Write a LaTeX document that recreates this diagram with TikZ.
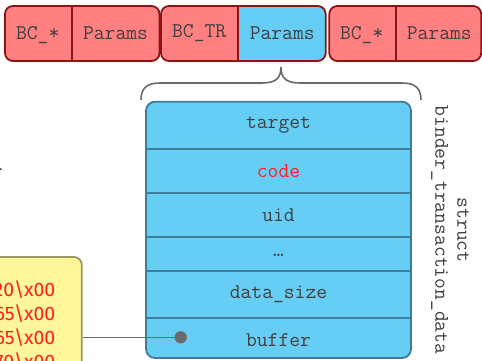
\documentclass[tikz,border=0pt]{standalone}
\usepackage{fontspec}
\newfontfamily\memfont{Fira Sans}
\definecolor{cmdfill}{HTML}{FF8080}
\definecolor{cmdline}{HTML}{8C1414}
\definecolor{fieldfill}{HTML}{66CDF4}
\definecolor{fieldline}{HTML}{3E7C99}
\definecolor{labelgray}{HTML}{404040}
\definecolor{memfill}{HTML}{FFF69C}
\definecolor{memline}{HTML}{9A9766}
\definecolor{wiregray}{HTML}{6B6B6B}
\definecolor{memred}{HTML}{FF1F1F}
\begin{document}
\begin{tikzpicture}[x=1pt,y=-1pt,
  lbl/.style={font=\ttfamily\fontsize{21}{22}\selectfont, text=labelgray, inner sep=0pt},
  recline/.style={draw=cmdline, line width=1.8pt},
  fieldborder/.style={draw=fieldline, line width=1.8pt},
  membox/.style={draw=memline, fill=memfill, line width=1.8pt, rounded corners=8pt, inner sep=0pt},
  memtxt/.style={font=\memfont\fontsize{19.5}{23.7}\selectfont, text=memred, inner sep=0pt, anchor=base east},
  wire/.style={draw=wiregray, line width=1.6pt},
  pin/.style={circle, fill=wiregray, inner sep=0pt, minimum size=12pt},
  bracestyle/.style={draw=wiregray, line width=1.6pt}
]
\useasboundingbox (0,0) rectangle (482,360);
\clip (0,0) rectangle (482,360);

% ---- command stream: three records ----
% record 1
\begin{scope}
  \clip[rounded corners=8pt] (5,6) rectangle (159.5,61);
  \fill[cmdfill] (5,6) rectangle (159.5,61);
\end{scope}
\draw[recline] (71.7,6) -- (71.7,61);
\draw[recline, rounded corners=8pt] (5,6) rectangle (159.5,61);
% record 2 (transaction)
\begin{scope}
  \clip[rounded corners=8pt] (161,6) rectangle (325.7,61);
  \fill[cmdfill] (161,6) rectangle (238,61);
  \fill[fieldfill] (238,6) rectangle (325.7,61);
\end{scope}
\draw[recline] (238,6) -- (238,61);
\draw[recline, rounded corners=8pt] (161,6) rectangle (325.7,61);
% record 3
\begin{scope}
  \clip[rounded corners=8pt] (329.3,6) rectangle (481.2,61);
  \fill[cmdfill] (329.3,6) rectangle (481.2,61);
\end{scope}
\draw[recline] (395.7,6) -- (395.7,61);
\draw[recline, rounded corners=8pt] (329.3,6) rectangle (481.2,61);

\node[lbl, anchor=base] (cmdA) at (37.7,39.3) {BC\_*};
\node[lbl, anchor=base] (parA) at (115.5,39.3) {Params};
\node[lbl, anchor=base] (cmdB) at (199.2,37.3) {BC\_TR};
\node[lbl, anchor=base] (parB) at (282.2,39.3) {Params};
\node[lbl, anchor=base] (cmdC) at (361.7,39.3) {BC\_*};
\node[lbl, anchor=base] (parC) at (439.3,39.3) {Params};

% ---- brace from the transaction params down to the struct ----
\draw[bracestyle] (141,100) .. controls (141,88) and (147,83) .. (160,83)
  -- (262,83) .. controls (276,83) and (281,78) .. (281,67)
  .. controls (281,78) and (286,83) .. (300,83)
  -- (402,83) .. controls (415,83) and (421,88) .. (421,100);

% ---- struct binder_transaction_data ----
\begin{scope}
  \clip[rounded corners=9pt] (146,101.7) rectangle (411,358);
  \fill[fieldfill] (146,101.7) rectangle (411,358);
\end{scope}
\foreach \yy in {149.3,192.7,236.7,271,317.7}
  \draw[fieldborder] (146,\yy) -- (411,\yy);
\draw[fieldborder, rounded corners=9pt] (146,101.7) rectangle (411,358);

\node[lbl, anchor=base] (target) at (278.5,128.3) {target};
\node[lbl, anchor=base, text=memred] (code) at (278.5,177.3) {code};
\node[lbl, anchor=base] (uid) at (278.5,221.7) {uid};
\node[lbl, anchor=base] (more) at (278.5,256.7) {…};
\node[lbl, anchor=base] (dsize) at (278.5,298.3) {data\_size};
\node[lbl, anchor=base] (buffer) at (278.5,346) {buffer};

\node[lbl, rotate=-90, align=center, font=\ttfamily\fontsize{21}{22}\selectfont] (structname)
  at (450,230) {struct\\binder\_transaction\_data};

% ---- data buffer in memory ----
\node[membox, minimum width=200pt, minimum height=220pt, anchor=north east] (mem) at (82.7,256) {};
\node[memtxt] (memA) at (55.5,296) {\textbackslash x74\textbackslash x00\textbackslash x20\textbackslash x00};
\node[memtxt] (memB) at (55.5,320) {\textbackslash x00\textbackslash x00\textbackslash x65\textbackslash x00};
\node[memtxt] (memC) at (55.5,344) {\textbackslash x00\textbackslash x00\textbackslash x65\textbackslash x00};
\node[memtxt] (memD) at (55.5,368) {\textbackslash x00\textbackslash x00\textbackslash x70\textbackslash x00};

% pointer from the buffer field to the data
\node[pin] (ptr) at (180.7,337.3) {};
\draw[wire] (ptr.center) -- (ptr.center -| mem.east);
\node[pin] at (ptr) {};

% trailing mark of a caption at the left edge
\node[anchor=base east, inner sep=0pt, font=\fontsize{21}{21}\selectfont] (mark) at (3.7,170) {.};
\end{tikzpicture}
\end{document}
